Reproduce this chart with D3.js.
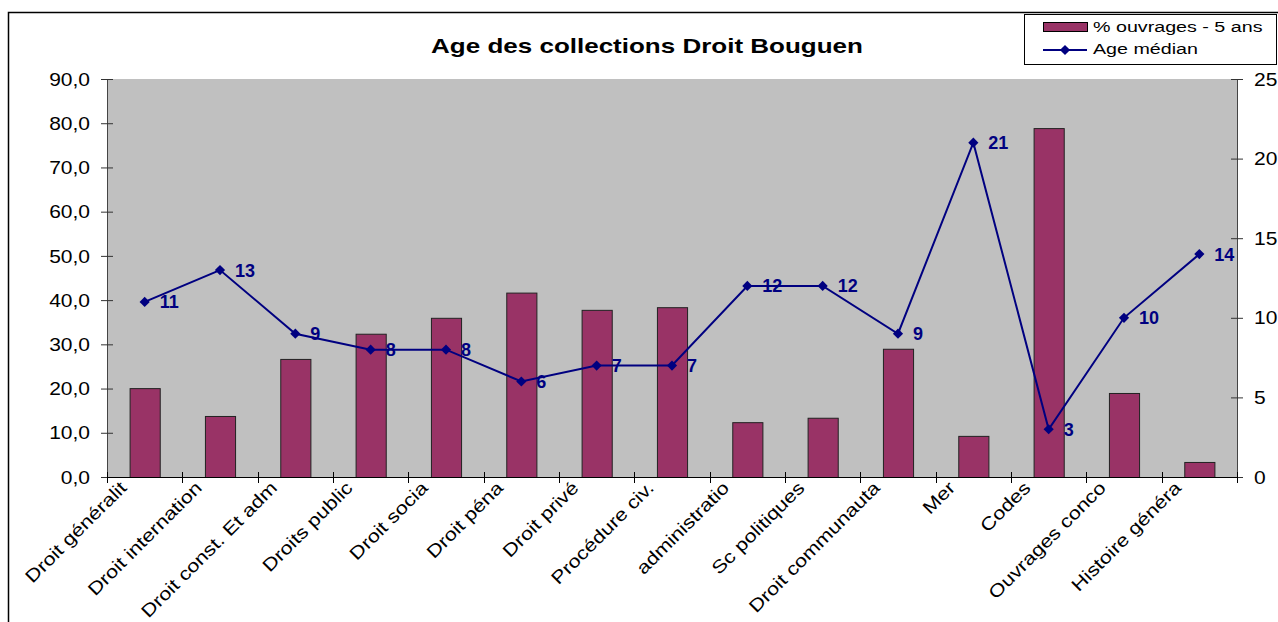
<!DOCTYPE html>
<html>
<head>
<meta charset="utf-8">
<script src="https://cdn.jsdelivr.net/npm/d3@7"></script>
<style>
  body { margin: 0; background: #fff; }
  text { font-family: Arial, "Liberation Sans", sans-serif; }
</style>
</head>
<body>
<script>
const width = 1278, height = 622;

// data
const categories = ["Droit généralit", "Droit internation", "Droit const. Et adm", "Droits public",
  "Droit socia", "Droit péna", "Droit privé", "Procédure civ.", "administratio",
  "Sc politiques", "Droit communauta", "Mer", "Codes", "Ouvrages conco", "Histoire généra"];
const pctRecent = [20.1, 13.8, 26.7, 32.4, 36.0, 41.7, 37.8, 38.4, 12.4, 13.4, 29.0, 9.3, 78.9, 19.0, 3.4];
const medianAge = [11, 13, 9, 8, 8, 6, 7, 7, 12, 12, 9, 21, 3, 10, 14];
const leftTicks = [0, 10, 20, 30, 40, 50, 60, 70, 80, 90];
const rightTicks = [0, 5, 10, 15, 20, 25];
const title = "Age des collections Droit Bouguen";
const legendLabels = ["% ouvrages - 5 ans", "Age médian"];

const barColor = "#993366", lineColor = "#000080";
const plot = { left: 107, right: 1237, top: 79, bottom: 477 };

const svg = d3.select("body").append("svg")
  .attr("width", width)
  .attr("height", height);

// clip for the rotated category labels (they get cut at the axis)
svg.append("clipPath").attr("id", "lblclip")
  .append("rect")
  .attr("x", 0).attr("y", plot.bottom + 3)
  .attr("width", width).attr("height", height);

// outer chart frame (runs off the right/bottom edges)
svg.append("rect")
  .attr("x", 8.5).attr("y", 12.5)
  .attr("width", 1400).attr("height", 800)
  .attr("fill", "#fff").attr("stroke", "#000").attr("stroke-width", 1.5);

// scales
const x = d3.scaleBand()
  .domain(d3.range(categories.length))
  .range([plot.left, plot.right])
  .paddingInner(0.6).paddingOuter(0.3);
const xEdge = d3.scaleLinear().domain([0, categories.length]).range([plot.left, plot.right]);
const yLeft = d3.scaleLinear().domain([0, 90]).range([plot.bottom, plot.top]);
const yRight = d3.scaleLinear().domain([0, 25]).range([plot.bottom, plot.top]);
const cx = i => x(i) + x.bandwidth() / 2;

// plot area
svg.append("rect")
  .attr("x", plot.left).attr("y", plot.top)
  .attr("width", plot.right - plot.left).attr("height", plot.bottom - plot.top)
  .attr("fill", "#c0c0c0");

// bars
svg.append("g").selectAll("rect")
  .data(pctRecent)
  .enter().append("rect")
  .attr("x", (d, i) => x(i) + 0.5)
  .attr("y", d => yLeft(d) + 0.5)
  .attr("width", x.bandwidth())
  .attr("height", d => plot.bottom - yLeft(d))
  .attr("fill", barColor)
  .attr("stroke", "#222")
  .attr("stroke-width", 1);

// left axis
const fmt = d => d3.format(".1f")(d).replace(".", ",");
const gl = svg.append("g")
  .attr("transform", `translate(${plot.left},0)`)
  .call(d3.axisLeft(yLeft).tickValues(leftTicks).tickFormat(fmt).tickSizeOuter(0));
gl.select(".domain").attr("stroke", "#444");
gl.selectAll(".tick line").attr("x1", 6).attr("x2", -6).attr("stroke", "#333");
gl.selectAll(".tick text")
  .attr("x", null).attr("dy", "0.35em")
  .attr("transform", "translate(-17,0) scale(1.2,1)")
  .attr("font-size", 17.5).attr("fill", "#000");

// right axis
const gr = svg.append("g")
  .attr("transform", `translate(${plot.right},0)`)
  .call(d3.axisRight(yRight).tickValues(rightTicks).tickSizeOuter(0));
gr.select(".domain").attr("stroke", "#444");
gr.selectAll(".tick line").attr("x1", -6).attr("x2", 6).attr("stroke", "#333");
gr.selectAll(".tick text")
  .attr("x", null).attr("dy", "0.35em")
  .attr("transform", "translate(17,0) scale(1.2,1)")
  .attr("font-size", 17.5).attr("fill", "#000");

// bottom axis: crossing ticks on category edges
const gb = svg.append("g");
gb.append("line")
  .attr("x1", plot.left).attr("x2", plot.right)
  .attr("y1", plot.bottom + 0.5).attr("y2", plot.bottom + 0.5)
  .attr("stroke", "#000");
gb.selectAll(".tk")
  .data(d3.range(categories.length + 1))
  .enter().append("line")
  .attr("x1", d => Math.round(xEdge(d)) + 0.5).attr("x2", d => Math.round(xEdge(d)) + 0.5)
  .attr("y1", plot.bottom - 5).attr("y2", plot.bottom + 6)
  .attr("stroke", "#000");
gb.append("g").attr("clip-path", "url(#lblclip)")
  .selectAll("text")
  .data(categories)
  .enter().append("text")
  .attr("transform", (d, i) => `translate(${cx(i) - 17},489) rotate(-45) scale(1.2,1)`)
  .attr("text-anchor", "end")
  .attr("font-size", 18)
  .text(d => d);

// median age line
const line = d3.line()
  .x((d, i) => cx(i))
  .y(d => yRight(d));
svg.append("path")
  .datum(medianAge)
  .attr("d", line)
  .attr("fill", "none")
  .attr("stroke", lineColor)
  .attr("stroke-width", 2);

// square markers turned 45deg -> diamonds
const diamond = d3.symbol().type(d3.symbolSquare).size(52);
svg.append("g").selectAll("path")
  .data(medianAge)
  .enter().append("path")
  .attr("transform", (d, i) => `translate(${cx(i)},${yRight(d)}) rotate(45)`)
  .attr("d", diamond)
  .attr("fill", lineColor);

svg.append("g").selectAll("text")
  .data(medianAge)
  .enter().append("text")
  .attr("x", (d, i) => cx(i) + 15)
  .attr("y", d => yRight(d) + 6.5)
  .attr("font-size", 18)
  .attr("font-weight", "bold")
  .attr("fill", lineColor)
  .text(d => d);

// title
svg.append("text")
  .attr("transform", "translate(647,53) scale(1.3,1)")
  .attr("text-anchor", "middle")
  .attr("font-size", 20)
  .attr("font-weight", "bold")
  .text(title);

// legend
const lg = svg.append("g");
lg.append("rect")
  .attr("x", 1024.5).attr("y", 14.5)
  .attr("width", 252).attr("height", 50)
  .attr("fill", "#fff").attr("stroke", "#000");
lg.append("rect")
  .attr("x", 1043.5).attr("y", 22.5)
  .attr("width", 44).attr("height", 9)
  .attr("fill", barColor).attr("stroke", "#000");
lg.append("line")
  .attr("x1", 1043).attr("x2", 1087)
  .attr("y1", 50).attr("y2", 50)
  .attr("stroke", lineColor).attr("stroke-width", 2);
lg.append("path")
  .attr("transform", "translate(1065,50) rotate(45)")
  .attr("d", diamond)
  .attr("fill", lineColor);
lg.selectAll("text")
  .data(legendLabels)
  .enter().append("text")
  .attr("transform", (d, i) => `translate(1093,${32 + i * 22}) scale(1.27,1)`)
  .attr("font-size", 15.5)
  .text(d => d);
</script>
</body>
</html>
